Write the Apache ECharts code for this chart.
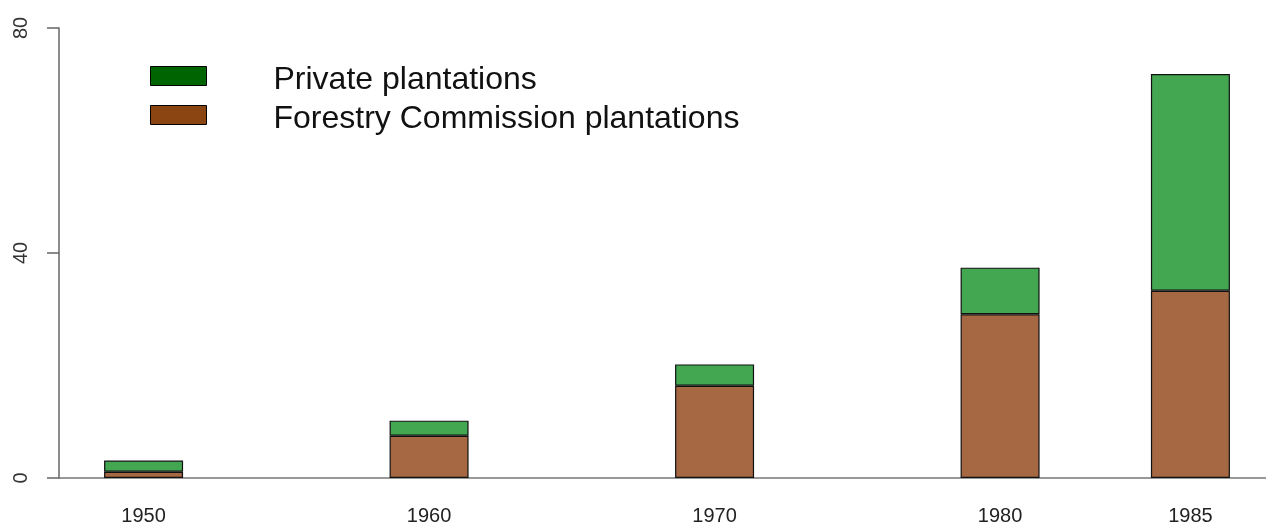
<!DOCTYPE html>
<html>
<head>
<meta charset="utf-8">
<script src="https://cdn.jsdelivr.net/npm/echarts@6/dist/echarts.min.js"></script>
<style>html,body{margin:0;padding:0;background:#fff;}#c{width:1266px;height:524px;}</style>
</head>
<body>
<div id="c"></div>
<script>
const years = ['1950', '1960', '1970', '1980', '1985'];
const slotsAfter = [3, 3, 3, 2];
const forestry = [1.1, 7.5, 16.4, 29.1, 33.3];
const privateP = [2.0, 2.7, 3.8, 8.3, 38.5];
const yTicks = [0, 40, 80];

const cats = [];
const fData = [];
const pData = [];
years.forEach((y, i) => {
  cats.push(y); fData.push(forestry[i]); pData.push(privateP[i]);
  if (i < slotsAfter.length) {
    for (let k = 1; k < slotsAfter[i]; k++) { cats.push(''); fData.push(null); pData.push(null); }
  }
});

const chart = echarts.init(document.getElementById('c'));
const font = 'Liberation Sans, Arial, sans-serif';
chart.setOption({
  animation: false,
  backgroundColor: '#fff',
  grid: [
    { left: 96, right: 28, top: 28, bottom: 46, outerBoundsMode: 'none', containLabel: false },
    { left: 59, right: 0, top: 28, bottom: 46, outerBoundsMode: 'none', containLabel: false }
  ],
  legend: {
    orient: 'vertical', left: 145, top: 51,
    icon: 'rect',
    itemWidth: 56, itemHeight: 19, itemGap: -1,
    formatter: name => '{t|' + name + '}',
    textStyle: {
      fontSize: 32, fontFamily: font, color: '#111',
      rich: { t: { fontSize: 32, lineHeight: 32, fontFamily: font, color: '#111', padding: [8, 0, 0, 62] } }
    },
    data: [
      { name: 'Private plantations', itemStyle: { color: '#006400', borderColor: '#000', borderWidth: 1 } },
      { name: 'Forestry Commission plantations', itemStyle: { color: '#8B4513', borderColor: '#000', borderWidth: 1 } }
    ]
  },
  xAxis: [
    {
      type: 'category', gridIndex: 0, data: cats,
      axisLine: { show: false }, axisTick: { show: false },
      axisLabel: { interval: 0, margin: 28, fontSize: 20, fontFamily: font, color: '#222' }
    },
    {
      type: 'value', gridIndex: 1, min: 0, max: 1,
      axisLine: { show: true, onZero: false, lineStyle: { color: '#777', width: 1.5 } },
      axisTick: { show: false }, axisLabel: { show: false }, splitLine: { show: false }
    }
  ],
  yAxis: [
    {
      type: 'value', gridIndex: 0, min: yTicks[0], max: yTicks[2], interval: 40,
      show: false
    },
    {
      type: 'value', gridIndex: 1, min: yTicks[0], max: yTicks[2], interval: 40,
      axisLine: { show: true, lineStyle: { color: '#666', width: 1.5 } },
      axisTick: { show: true, length: 12, lineStyle: { color: '#666', width: 1.5 } },
      axisLabel: { rotate: 90, margin: 28, fontSize: 20, fontFamily: font, color: '#333' },
      splitLine: { show: false }
    }
  ],
  series: [
    {
      name: 'Forestry Commission plantations', type: 'bar', stack: 's',
      xAxisIndex: 0, yAxisIndex: 0, barWidth: 79, data: fData,
      itemStyle: { color: '#A56843', borderColor: '#111', borderWidth: 1.2 }
    },
    {
      name: 'Private plantations', type: 'bar', stack: 's',
      xAxisIndex: 0, yAxisIndex: 0, barWidth: 79, data: pData,
      itemStyle: { color: '#43A651', borderColor: '#111', borderWidth: 1.2 }
    }
  ]
});
</script>
</body>
</html>
